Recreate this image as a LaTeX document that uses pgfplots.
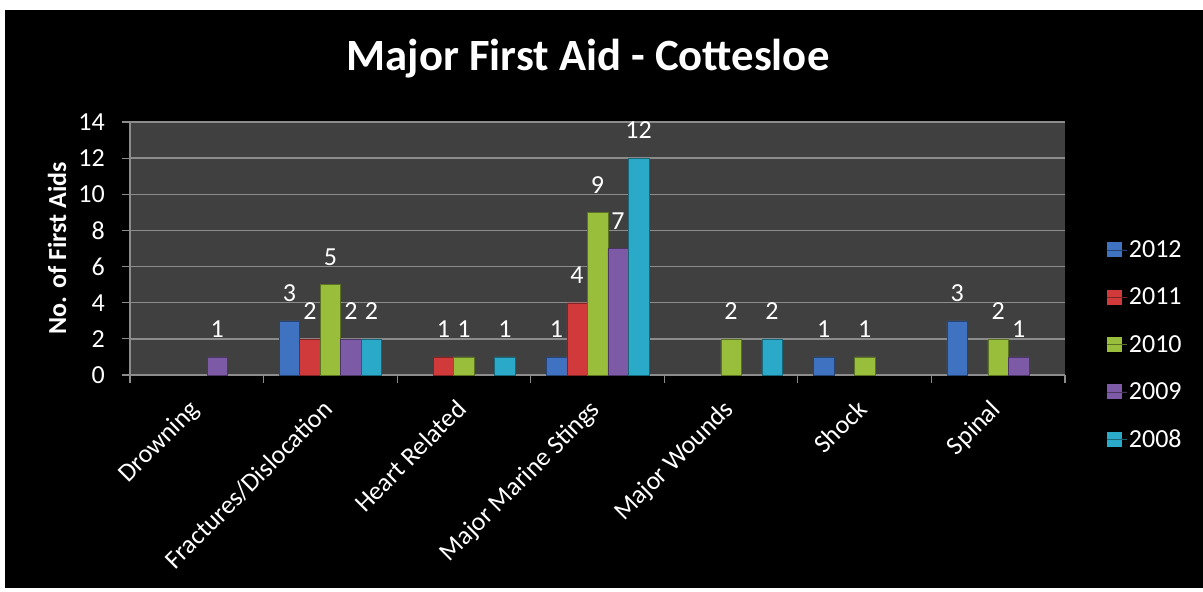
\documentclass[border=0pt]{standalone}
\usepackage{pgfplots}
\pgfplotsset{compat=1.18}
\usepackage{fontspec}
\setmainfont{Carlito}

\definecolor{yA}{HTML}{3F72C0}% 2012
\definecolor{yB}{HTML}{D03A3A}% 2011
\definecolor{yC}{HTML}{98BE3C}% 2010
\definecolor{yD}{HTML}{7D5AA5}% 2009
\definecolor{yE}{HTML}{2AAAC8}% 2008
\definecolor{plotbg}{HTML}{404040}
\definecolor{gridc}{HTML}{8C8C8C}

\newcommand{\lblfont}{\fontsize{26}{26}\selectfont}

\begin{document}
\begin{tikzpicture}
\fill[white] (0pt,0pt) rectangle (1203pt,592pt);
\fill[black] (5pt,4pt) rectangle (1203pt,582pt);
\path[use as bounding box] (0pt,0pt) rectangle (1203pt,592pt);
\begin{axis}[
  at={(130pt,217pt)}, anchor=south west,
  scale only axis, width=935pt, height=253pt,
  ybar=0pt, bar width=20.5pt,
  xmin=-0.5, xmax=6.5, ymin=0, ymax=14,
  ytick={0,2,...,14},
  xtick={0,...,6},
  xticklabels={Drowning, Fractures/Dislocation, Heart Related, Major Marine Stings, Major Wounds, Shock, Spinal},
  minor xtick={-0.5,0.5,...,6.5},
  axis x line*=bottom, axis y line*=left,
  axis line style={draw=gridc, line width=1.2pt},
  axis background/.style={fill=plotbg},
  ymajorgrids, major grid style={draw=gridc, line width=1.4pt},
  tick align=outside, major tick length=8pt, minor tick length=8pt,
  every tick/.style={draw=gridc, line width=1.2pt},
  major x tick style={draw=none},
  /pgf/number format/assume math mode=true,
  tick label style={font=\lblfont, text=white},
  yticklabel style={inner sep=0pt, xshift=-17pt},
  xticklabel style={yshift=-15pt, xshift=-9pt, rotate=45, anchor=north east, inner sep=0pt},
  ylabel={No. of First Aids},
  every axis y label/.style={at={(axis description cs:-0.078,0.5)}, rotate=90, anchor=center,
    font=\fontsize{26}{26}\selectfont\bfseries, text=white},
  title={Major First Aid - Cottesloe},
  title style={at={(axis description cs:0.49,1.178)}, anchor=base,
    font=\fontsize{44.7}{44.7}\selectfont\bfseries, text=white},
  nodes near coords,
  every node near coord/.append style={font=\lblfont, text=white, inner sep=0pt, yshift=19pt},
  legend image code/.code={\draw[#1, draw=none] (0pt,-7.5pt) rectangle (15pt,7.5pt);
    \path (0pt,0pt) -- (20pt,0pt);},
  legend style={at={(1.041,0.119)}, anchor=west, draw=none, fill=none,
    text=white, font=\lblfont, row sep=25pt, legend cell align=left},
]
% 2012
\addplot[fill=yA, draw=yA!60!black] coordinates {(1,3) (3,1) (5,1) (6,3)};
\addlegendentry{2012}
% 2011
\addplot[fill=yB, draw=yB!60!black] coordinates {(1,2) (2,1) (3,4)};
\addlegendentry{2011}
% 2010
\addplot[fill=yC, draw=yC!60!black] coordinates {(1,5) (2,1) (3,9) (4,2) (5,1) (6,2)};
\addlegendentry{2010}
% 2009
\addplot[fill=yD, draw=yD!60!black] coordinates {(0,1) (1,2) (3,7) (6,1)};
\addlegendentry{2009}
% 2008
\addplot[fill=yE, draw=yE!60!black] coordinates {(1,2) (2,1) (3,12) (4,2)};
\addlegendentry{2008}
\end{axis}
\end{tikzpicture}
\end{document}
